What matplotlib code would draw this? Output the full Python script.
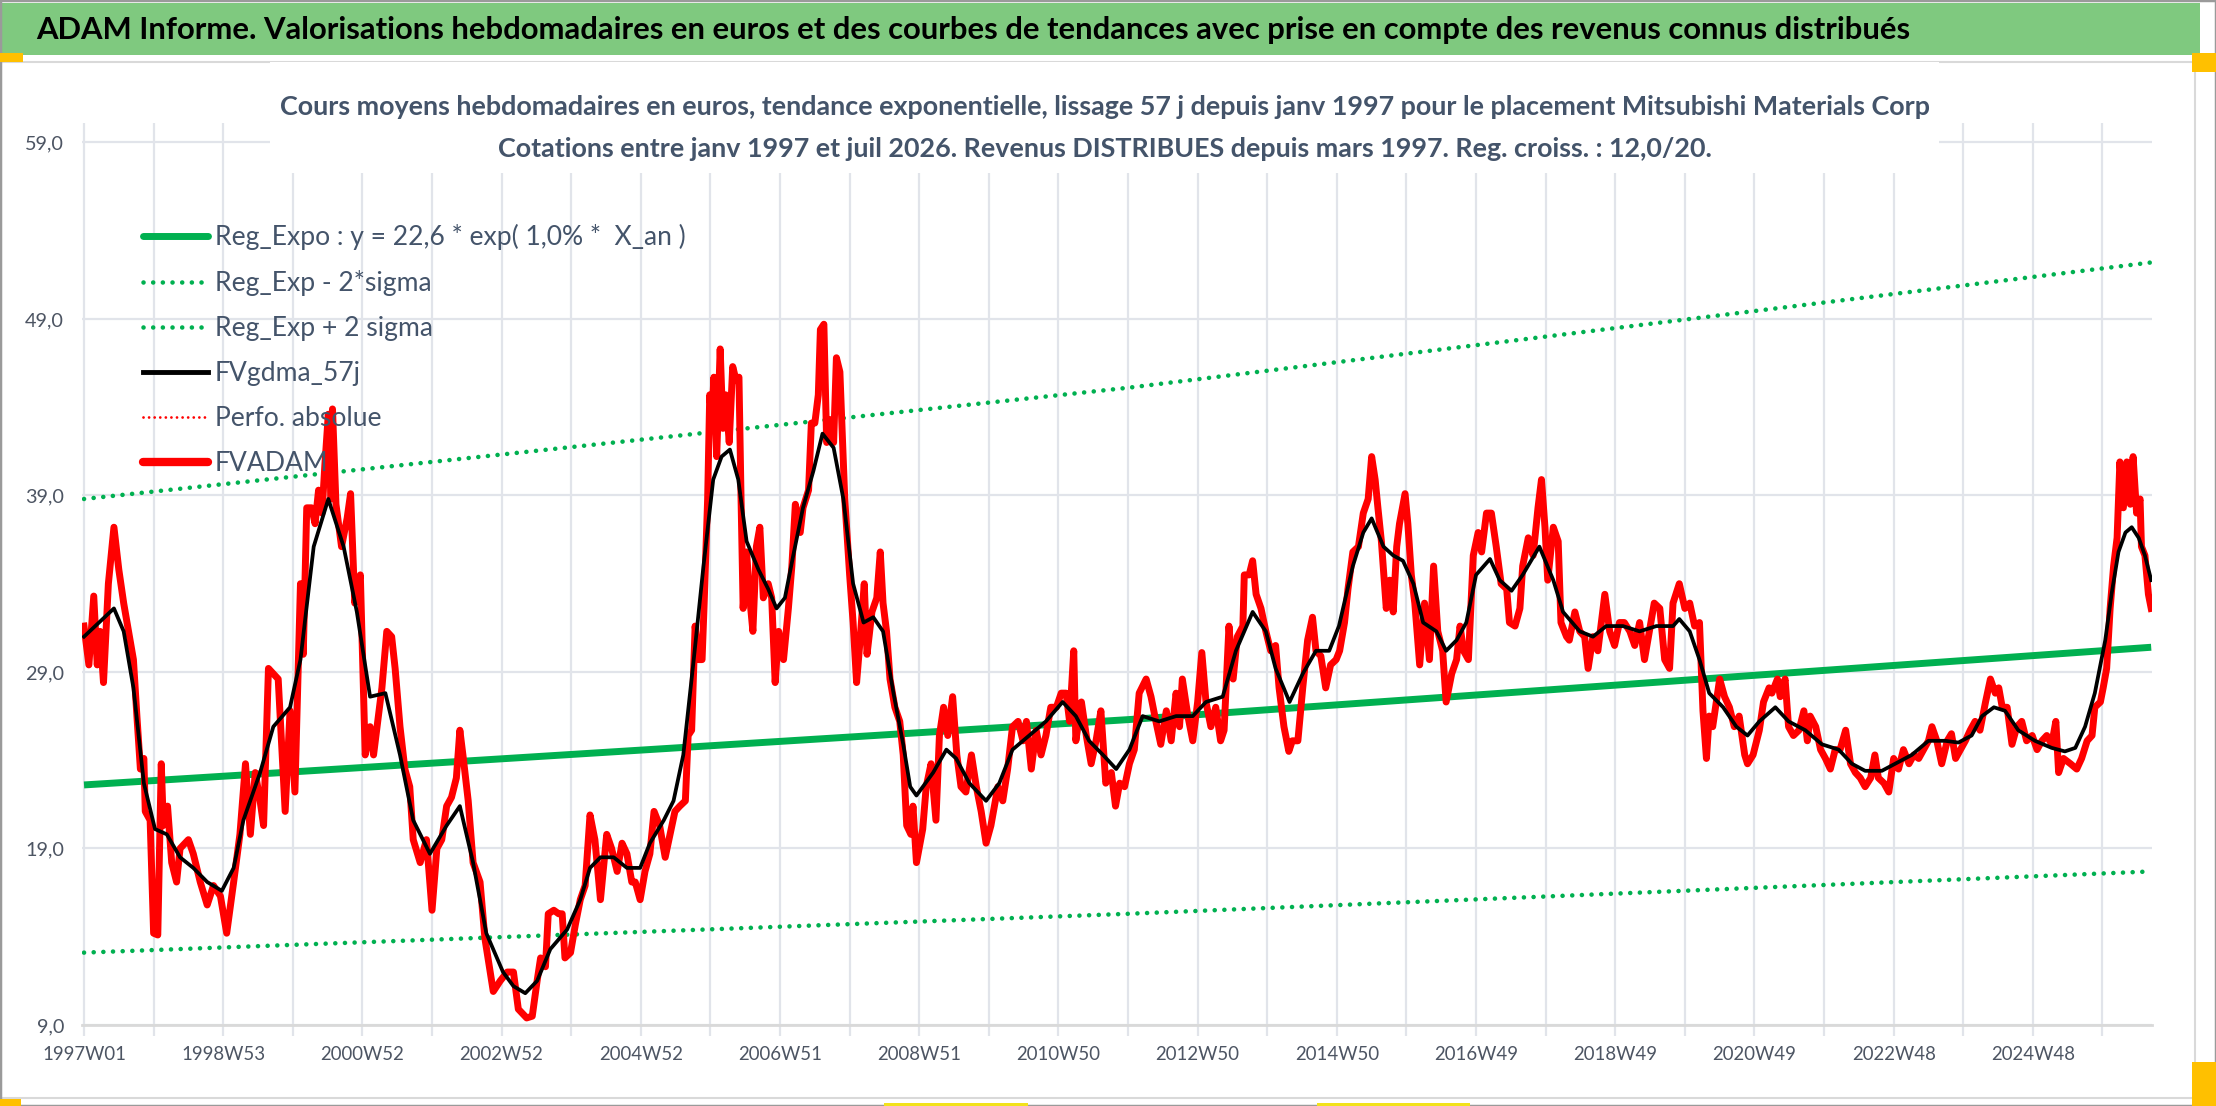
"""ADAM weekly valuation chart - Mitsubishi Materials Corp."""
import numpy as np
import pandas as pd
import matplotlib
matplotlib.use('Agg')
from matplotlib import pyplot as plt
from matplotlib import font_manager
from matplotlib.patches import Rectangle
from matplotlib.lines import Line2D

W, H = 2216, 1106
n_weeks = 1545

# FVADAM weekly price (red): years since jan 1997 / euros
red_t = [0.00, 0.07, 0.14, 0.19, 0.23, 0.28, 0.35, 0.43, 0.50, 0.57,
         0.64, 0.71, 0.76, 0.81, 0.86, 0.88, 0.95, 1.00, 1.06, 1.11,
         1.14, 1.20, 1.26, 1.33, 1.38, 1.50, 1.57, 1.67, 1.77, 1.86,
         1.96, 2.05, 2.15, 2.24, 2.32, 2.39, 2.46, 2.53, 2.58, 2.65,
         2.72, 2.79, 2.84, 2.89, 2.96, 3.03, 3.11, 3.15, 3.20, 3.27,
         3.32, 3.37, 3.42, 3.46, 3.51, 3.55, 3.57, 3.62, 3.70, 3.78,
         3.83, 3.89, 3.97, 4.04, 4.11, 4.16, 4.21, 4.28, 4.35, 4.42,
         4.47, 4.54, 4.61, 4.68, 4.73, 4.83, 4.92, 5.00, 5.07, 5.14,
         5.21, 5.28, 5.35, 5.40, 5.45, 5.52, 5.59, 5.69, 5.76, 5.88, 5.98,
         6.08, 6.17, 6.24, 6.36, 6.44, 6.51, 6.56, 6.63, 6.67, 6.75,
         6.82, 6.87, 6.91, 6.99, 7.06, 7.13, 7.20, 7.27, 7.34, 7.42,
         7.51, 7.58, 7.66, 7.73, 7.80, 7.87, 7.92, 7.99, 8.06, 8.13,
         8.19, 8.27, 8.35, 8.42, 8.49, 8.56, 8.64, 8.68, 8.73, 8.78,
         8.83, 8.88, 8.91, 8.96, 8.99, 9.02, 9.05, 9.09, 9.14, 9.18,
         9.22, 9.27, 9.32, 9.37, 9.41, 9.44, 9.47, 9.52, 9.56, 9.61,
         9.66, 9.71, 9.76, 9.83, 9.88, 9.93, 9.98, 10.05, 10.12, 10.17,
         10.22, 10.29, 10.33, 10.41, 10.45, 10.50, 10.55, 10.58, 10.63, 10.67,
         10.72, 10.77, 10.81, 10.86, 10.93, 11.00, 11.05, 11.10, 11.15, 11.21,
         11.25, 11.32, 11.39, 11.44, 11.48, 11.53, 11.58, 11.65, 11.72, 11.77,
         11.82, 11.88, 11.91, 11.96,
         12.05, 12.10, 12.17, 12.24, 12.29, 12.35, 12.41, 12.48, 12.54, 12.60,
         12.67, 12.75, 12.82, 12.89, 12.96, 13.03, 13.13, 13.20, 13.27, 13.34,
         13.42, 13.49, 13.54, 13.61, 13.68, 13.75, 13.82, 13.89, 13.97, 14.04,
         14.11, 14.16, 14.22, 14.25, 14.33, 14.40, 14.47, 14.54, 14.61, 14.68,
         14.76, 14.82, 14.88, 14.95, 15.02, 15.09, 15.16, 15.26, 15.33, 15.40,
         15.47, 15.55, 15.62, 15.69, 15.74, 15.78, 15.86, 15.93, 16.00, 16.06,
         16.12, 16.19, 16.26, 16.33, 16.38, 16.45, 16.51, 16.57, 16.65, 16.67,
         16.74, 16.79, 16.84, 16.91, 16.98, 17.05, 17.12, 17.17, 17.24, 17.31,
         17.36, 17.44, 17.51, 17.58, 17.65, 17.70, 17.77, 17.84, 17.91, 17.99,
         18.04, 18.11, 18.16, 18.23, 18.31, 18.38, 18.45, 18.50, 18.55, 18.59,
         18.64, 18.71, 18.76, 18.81, 18.86, 18.90, 18.98, 19.02, 19.07, 19.12,
         19.19, 19.26, 19.33, 19.39, 19.45, 19.52, 19.57, 19.65, 19.72, 19.77,
         19.82, 19.89, 19.96, 20.03, 20.08, 20.15, 20.22, 20.29, 20.36, 20.44,
         20.48, 20.56, 20.63, 20.67, 20.75, 20.82, 20.89, 20.94, 20.99, 21.03,
         21.11, 21.18, 21.22, 21.30, 21.34, 21.42, 21.49, 21.56, 21.61, 21.68,
         21.75, 21.85, 21.92, 21.99, 22.06, 22.13, 22.21, 22.28, 22.35, 22.42,
         22.49, 22.56, 22.64, 22.71, 22.78, 22.83, 22.92, 23.00, 23.07, 23.14,
         23.21, 23.26, 23.31, 23.35, 23.40, 23.50, 23.57, 23.64, 23.71, 23.78,
         23.86, 23.90, 23.98, 24.07,
         24.13, 24.21, 24.25, 24.33, 24.37, 24.44, 24.49, 24.56, 24.64, 24.71,
         24.76, 24.80, 24.88, 24.95, 25.02, 25.09, 25.16, 25.23, 25.31, 25.38,
         25.45, 25.52, 25.59, 25.67, 25.73, 25.78, 25.86, 25.93, 26.00, 26.07,
         26.14, 26.22, 26.29, 26.36, 26.43, 26.50, 26.55, 26.62, 26.69, 26.77,
         26.83, 26.89, 26.96, 27.03, 27.10, 27.17, 27.24, 27.32, 27.39, 27.46,
         27.51, 27.56, 27.63, 27.70, 27.77, 27.84, 27.91, 27.99, 28.06, 28.13,
         28.20, 28.27, 28.33, 28.37, 28.44, 28.54, 28.63, 28.70, 28.78, 28.85,
         28.89, 28.97, 29.01, 29.06, 29.11, 29.16, 29.21, 29.25, 29.30, 29.35,
         29.40, 29.44, 29.49, 29.54, 29.56, 29.61, 29.66, 29.70]
red_v = [31.6, 29.4, 33.3, 29.4, 31.3, 28.4, 34.0, 37.2, 34.8, 32.9,
         31.3, 29.7, 26.5, 23.5, 24.1, 21.1, 20.6, 14.2, 14.1, 23.8,
         20.3, 21.4, 18.2, 17.1, 19.0, 19.5, 18.7, 17.1, 15.8, 16.9,
         16.3, 14.2, 17.1, 19.8, 23.8, 19.8, 23.3, 21.7, 20.3, 29.2,
         28.9, 28.6, 24.9, 21.1, 26.8, 22.2, 34.0, 30.0, 38.3, 38.3,
         37.4, 39.3, 38.0, 40.7, 43.6, 38.8, 43.9, 38.5, 36.1, 37.7,
         39.1, 32.9, 34.5, 24.3, 25.9, 24.3, 25.9, 28.1, 31.3, 31.0,
         29.2, 25.9, 23.5, 22.5, 19.5, 18.2, 19.5, 15.5, 19.0, 19.5,
         21.4, 21.9, 23.0, 25.7, 24.1, 21.7, 18.2, 17.1, 13.9, 10.9, 11.5,
         12.0, 12.0, 9.9, 9.4, 9.5, 11.5, 12.8, 12.3, 15.3, 15.5,
         15.3, 15.3, 12.8, 13.1, 14.7, 16.1, 16.9, 20.9, 19.5, 16.1,
         19.8, 19.0, 17.7, 19.3, 18.7, 17.1, 17.1, 16.1, 17.7, 18.7,
         21.1, 20.3, 18.5, 19.8, 21.1, 21.4, 21.7, 25.4, 25.7, 31.6,
         29.7, 29.7, 32.9, 38.8, 44.7, 43.3, 45.7, 41.2, 47.3, 42.8,
         44.7, 42.0, 46.3, 45.5, 45.7, 38.8, 32.6, 35.8, 33.4, 31.3,
         36.1, 37.2, 33.2, 34.0, 33.2, 28.4, 31.3, 29.7, 32.6, 35.0,
         38.5, 36.9, 38.3, 39.3, 43.1, 43.1, 44.7, 48.4, 48.7, 42.0,
         43.3, 42.0, 46.8, 46.0, 38.8, 34.5, 31.8, 28.4, 30.8, 34.0,
         30.0, 32.4, 33.2, 35.8, 32.9, 31.3, 28.6, 27.0, 26.2, 24.3,
         20.3, 19.8, 21.4, 18.2,
         20.1, 22.5, 23.8, 20.6, 25.4, 27.0, 25.4, 27.6, 24.3, 22.5,
         22.2, 24.3, 22.5, 21.1, 19.3, 20.3, 22.5, 21.7, 23.5, 25.9,
         26.2, 25.1, 26.2, 23.5, 25.7, 24.3, 25.4, 27.0, 27.0, 27.8,
         27.8, 26.2, 30.2, 25.1, 27.3, 25.4, 23.8, 25.1, 26.8, 22.7,
         23.3, 21.4, 22.7, 22.5, 23.8, 24.6, 27.8, 28.6, 27.6, 26.2,
         24.9, 26.8, 25.1, 27.8, 25.9, 28.6, 26.5, 25.1, 27.3, 30.1,
         27.3, 25.9, 27.0, 25.1, 25.7, 31.6, 28.6, 31.0, 31.6, 34.5,
         34.5, 35.3, 33.4, 32.6, 31.3, 30.2, 30.5, 28.1, 25.9, 24.5,
         25.1, 25.1, 28.1, 30.8, 32.1, 30.2, 29.9, 28.1, 29.4, 29.7,
         30.2, 31.8, 33.7, 35.8, 36.1, 38.0, 38.8, 41.2, 39.9, 38.3,
         36.4, 32.6, 34.2, 32.4, 36.1, 37.4, 39.1, 37.4, 34.5, 32.9,
         29.4, 32.9, 29.7, 35.0, 31.3, 30.2, 27.3, 28.9, 29.7, 31.6,
         30.2, 29.7, 35.6, 36.9, 35.8, 38.0, 38.0, 36.1, 34.0, 33.7,
         31.8, 31.6, 32.6, 35.0, 36.6, 35.6, 38.3, 39.9, 37.2, 34.2,
         37.2, 36.4, 31.8, 31.0, 30.8, 32.4, 31.3, 31.0, 29.2, 31.0,
         30.2, 33.4, 31.3, 30.5, 31.8, 31.8, 31.3, 30.5, 31.8, 29.7,
         31.3, 32.9, 32.6, 29.7, 29.2, 32.9, 34.0, 32.6, 32.9, 31.6,
         31.8, 26.8, 24.1, 26.5, 25.9, 28.6, 27.6, 27.0, 25.9, 26.5,
         24.3, 23.8, 24.3, 25.7,
         27.3, 28.1, 27.8, 28.6, 27.6, 28.6, 25.9, 25.4, 25.7, 26.8,
         25.1, 26.5, 25.9, 24.6, 24.1, 23.5, 24.6, 24.6, 25.7, 23.8,
         23.3, 23.0, 22.5, 23.0, 24.3, 23.0, 22.7, 22.2, 24.1, 23.5,
         24.6, 23.8, 24.3, 24.1, 24.6, 25.1, 25.9, 25.1, 23.8, 25.1,
         25.5, 24.1, 24.6, 25.1, 25.7, 26.2, 25.7, 27.3, 28.6, 27.8,
         28.1, 27.0, 27.0, 24.9, 25.9, 26.2, 25.1, 25.4, 24.6, 25.1,
         25.4, 24.9, 26.2, 23.3, 24.1, 23.8, 23.5, 24.1, 25.1, 25.4,
         27.0, 27.3, 28.1, 29.2, 32.6, 35.0, 36.6, 40.9, 38.3, 40.9,
         38.5, 41.2, 38.0, 38.8, 36.1, 35.6, 33.4, 32.6]

# FVgdma_57j smoothed curve (black)
black_t = [0.00, 0.43, 0.57, 0.71, 0.86, 1.02, 1.19, 1.38, 1.57, 1.77,
           1.98, 2.15, 2.29, 2.53, 2.72, 2.96, 3.11, 3.30, 3.51, 3.73,
           3.92, 4.11, 4.33, 4.54, 4.73, 4.97, 5.21, 5.40, 5.59, 5.78, 6.02,
           6.17, 6.34, 6.51, 6.70, 6.94, 7.13, 7.27, 7.42, 7.61, 7.80,
           7.99, 8.13, 8.33, 8.47, 8.61, 8.76, 8.90, 9.04, 9.16, 9.28,
           9.40, 9.52, 9.69, 9.83, 9.95, 10.07, 10.19, 10.33, 10.48, 10.61,
           10.77, 10.91, 11.05, 11.20, 11.34, 11.48, 11.63, 11.77, 11.87, 11.96,
           12.20, 12.39, 12.53, 12.72, 12.96, 13.15, 13.34, 13.58, 13.82, 14.06,
           14.25, 14.44, 14.64, 14.83, 15.02, 15.21, 15.45, 15.69, 15.93, 16.12,
           16.36, 16.55, 16.79, 16.98, 17.12, 17.32, 17.51, 17.70, 17.89,
           18.03, 18.23, 18.38, 18.50, 18.67, 18.81, 18.95, 19.10, 19.24, 19.43,
           19.57, 19.72, 19.86, 20.00, 20.20, 20.34, 20.51, 20.67, 20.91, 21.11,
           21.25, 21.49, 21.68, 21.87, 22.11, 22.35, 22.59, 22.83, 22.92, 23.07,
           23.21, 23.35, 23.55, 23.74, 23.90, 24.07,
           24.30, 24.49, 24.73, 24.97, 25.21, 25.40, 25.59, 25.83, 26.02, 26.26,
           26.50, 26.74, 26.93, 27.12, 27.27, 27.44, 27.60, 27.79, 28.03, 28.27,
           28.46, 28.61, 28.75, 28.89, 29.04, 29.13, 29.23, 29.33, 29.42, 29.52,
           29.61, 29.70]
black_v = [31.0, 32.6, 31.3, 28.1, 22.7, 20.1, 19.8, 18.5, 17.9, 17.1,
           16.6, 17.9, 20.6, 23.3, 25.9, 27.0, 29.7, 36.1, 38.8, 36.1,
           32.4, 27.6, 27.8, 24.3, 20.6, 18.7, 20.3, 21.4, 18.2, 14.2, 12.0,
           11.2, 10.8, 11.5, 13.3, 14.4, 16.1, 17.9, 18.5, 18.5, 17.9,
           17.9, 19.3, 20.6, 21.7, 24.3, 29.7, 35.0, 39.9, 41.2, 41.6,
           39.9, 36.4, 34.8, 33.7, 32.6, 33.2, 35.6, 38.3, 40.4, 42.5,
           41.7, 38.8, 34.0, 31.8, 32.1, 31.3, 27.8, 24.9, 22.5, 22.0,
           23.3, 24.6, 24.1, 22.7, 21.7, 22.7, 24.6, 25.4, 26.2, 27.3,
           26.5, 25.1, 24.3, 23.5, 24.6, 26.5, 26.2, 26.5, 26.5, 27.3,
           27.6, 30.2, 32.4, 31.3, 29.2, 27.3, 28.9, 30.2, 30.2,
           31.6, 35.0, 36.9, 37.7, 36.1, 35.6, 35.3, 34.0, 31.8, 31.3,
           30.2, 30.8, 31.8, 34.5, 35.4, 34.2, 33.6, 34.5, 36.1, 34.2,
           32.4, 31.3, 31.0, 31.6, 31.6, 31.3, 31.6, 31.6, 32.0, 31.3,
           29.7, 27.8, 27.0, 25.9, 25.4, 26.2,
           27.0, 26.2, 25.7, 24.9, 24.6, 23.8, 23.4, 23.4, 23.8, 24.3,
           25.1, 25.1, 25.0, 25.4, 26.5, 27.0, 26.8, 25.7, 25.1, 24.7,
           24.5, 24.7, 25.9, 27.8, 30.8, 33.4, 35.8, 36.9, 37.2, 36.6,
           35.6, 34.2]

# exponential regression and +/- 2 sigma bands, read at start / middle / end
trend_t = [0.0, 15.0, 29.7]
reg_expo = [22.6, 26.3, 30.4]
reg_minus = [13.1, 15.3, 17.7]
reg_plus = [38.8, 45.1, 52.2]

y_ticks = [9, 19, 29, 39, 49, 59]

title = ("ADAM Informe. Valorisations hebdomadaires en euros et des courbes de "
         "tendances avec prise en compte des revenus connus distribués")
sub1 = ("Cours moyens hebdomadaires en euros, tendance exponentielle, lissage 57 j "
        "depuis janv 1997 pour le placement Mitsubishi Materials Corp")
sub2 = ("Cotations entre janv 1997 et juil 2026. Revenus DISTRIBUES depuis mars 1997. "
        "Reg. croiss. : 12,0/20.")
legend_labels = ['Reg_Expo : y = 22,6 * exp( 1,0% *  X_an )', 'Reg_Exp - 2*sigma',
                 'Reg_Exp + 2 sigma', 'FVgdma_57j', 'Perfo. absolue', 'FVADAM']

# week labels like 1997W01
dates = pd.date_range('1997-01-01', periods=n_weeks, freq='7D')
iso = dates.isocalendar()
week_labels = ['%dW%02d' % (y, w) for y, w in zip(iso['year'], iso['week'])]

# font: narrow sans if present
avail = {f.name for f in font_manager.fontManager.ttflist}
font = 'DejaVu Sans'
for cand in ['Liberation Sans Narrow', 'Lato', 'Open Sans', 'Noto Sans']:
    if cand in avail:
        font = cand
        break
plt.rcParams['font.family'] = [font, 'DejaVu Sans']

GREEN = '#00B050'
GRID = '#E1E4EA'
SLATE = '#44546A'

fig = plt.figure(figsize=(W / 100, H / 100), dpi=100)
fig.patch.set_facecolor('white')


def fx(px):
    return px / W


def fy(py):
    return 1 - py / H


def frect(x0, y0, x1, y1, **kw):
    r = Rectangle((fx(x0), fy(y1)), (x1 - x0) / W, (y1 - y0) / H,
                  transform=fig.transFigure, **kw)
    fig.add_artist(r)
    return r


# banner, chart-area frame, selection handles
frect(0, 3, 2200, 55, facecolor='#7FC97F', edgecolor='none', zorder=0)
frect(1, 62, 2195, 1098, fill=False, edgecolor='#D9D9D9', lw=1.5, zorder=0)
frect(0, 0, W, H, fill=False, edgecolor='#9A9A9A', lw=2.5, zorder=0)
for box in [(0, 53, 23, 62), (2192, 53, 2216, 72), (2192, 1062, 2216, 1106),
            (0, 1099, 21, 1106)]:
    frect(*box, facecolor='#FFC000', edgecolor='none', zorder=5)
for box in [(884, 1103, 1028, 1106), (1317, 1103, 1470, 1106)]:
    frect(*box, facecolor='#F2E21B', edgecolor='none', zorder=5)

ax = fig.add_axes([fx(82), fy(1025), (2152 - 82) / W, (1025 - 123) / H])
ax.set_xlim(-1.5, n_weeks)
ax.set_ylim(9, 60.1)

tx = np.array(trend_t) * 52
ax.plot(tx, reg_expo, color=GREEN, lw=5, solid_capstyle='butt', zorder=2)
dots = dict(color=GREEN, lw=3.3, linestyle=(0, (0.01, 2.1)), dash_capstyle='round', zorder=2)
ax.plot(tx, reg_minus, **dots)
ax.plot(tx, reg_plus, **dots)
ax.plot(np.array(red_t) * 52, red_v, color='#FF0000', lw=5, solid_joinstyle='round', zorder=3)
ax.plot(np.array(black_t) * 52, black_v, color='black', lw=2.7, solid_joinstyle='round', zorder=4)

# white box behind the chart title hides the grid there
ax.add_patch(Rectangle((fx(270), fy(173)), (1939 - 270) / W, (173 - 62) / H,
                       transform=fig.transFigure, facecolor='white',
                       edgecolor='none', zorder=1, clip_on=False))

ax.set_yticks(y_ticks)
ax.set_yticklabels([('%.1f' % v).replace('.', ',') for v in y_ticks])
xt = list(range(0, n_weeks, 52))
ax.set_xticks(xt)
ax.set_xticklabels([week_labels[i] if i % 104 == 0 else '' for i in xt])
ax.grid(True, color=GRID, lw=1.6, zorder=0.5)
ax.set_axisbelow(True)
for s in ['top', 'right', 'left']:
    ax.spines[s].set_visible(False)
ax.spines['bottom'].set_color('#D9D9D9')
ax.spines['bottom'].set_linewidth(2)
ax.tick_params(axis='x', length=8, width=1.6, color=GRID, pad=7,
               labelsize=15, labelcolor='#4D5563')
ax.tick_params(axis='y', length=0, pad=13, labelsize=15, labelcolor='#4D5563')

t_title = fig.text(fx(36), fy(30), title, ha='left', va='center', fontsize=26,
                   fontweight='bold', color='black', zorder=6)
t_sub1 = fig.text(fx(1105), fy(107), sub1, ha='center', va='center', fontsize=18,
                  fontweight='bold', color=SLATE, zorder=6)
t_sub2 = fig.text(fx(1105), fy(149), sub2, ha='center', va='center', fontsize=18,
                  fontweight='bold', color=SLATE, zorder=6)

handles = [Line2D([], [], color=GREEN, lw=5, solid_capstyle='round'),
           Line2D([], [], **{k: v for k, v in dots.items() if k != 'zorder'}),
           Line2D([], [], **{k: v for k, v in dots.items() if k != 'zorder'}),
           Line2D([], [], color='black', lw=3.5),
           Line2D([], [], color='#FF0000', lw=2, linestyle=(0, (0.01, 2.0)),
                  dash_capstyle='round'),
           Line2D([], [], color='#FF0000', lw=6, solid_capstyle='round')]


def make_legend(fs, spacing, anchor):
    fs_px = fs * 100 / 72
    leg = ax.legend(handles, legend_labels, loc='upper left', frameon=False,
                    fontsize=fs, labelcolor=SLATE, borderpad=0, borderaxespad=0,
                    handlelength=65 / fs_px, handletextpad=7 / fs_px,
                    labelspacing=spacing, bbox_to_anchor=anchor,
                    bbox_transform=fig.transFigure)
    return leg


# fit sizes and positions to the reference pixels
leg_fs, leg_sp = 16.0, 0.5
anchor = (fx(143), fy(215))
leg = make_legend(leg_fs, leg_sp, anchor)
for _ in range(3):
    fig.canvas.draw()
    r = fig.canvas.get_renderer()
    # titles
    w = t_title.get_window_extent(r).width
    t_title.set_fontsize(t_title.get_fontsize() * (1917 - 36) / w)
    w = t_sub1.get_window_extent(r).width
    k = (1931 - 278) / w
    t_sub1.set_fontsize(t_sub1.get_fontsize() * k)
    t_sub2.set_fontsize(t_sub2.get_fontsize() * k)
    # tick labels
    wy = ax.get_yticklabels()[1].get_window_extent(r).width
    wx = ax.get_xticklabels()[0].get_window_extent(r).width
    ax.tick_params(axis='y', labelsize=ax.get_yticklabels()[1].get_fontsize() * 39 / wy)
    ax.tick_params(axis='x', labelsize=ax.get_xticklabels()[0].get_fontsize() * 84 / wx)
    # legend
    texts = leg.get_texts()
    b0 = texts[0].get_window_extent(r)
    b1 = texts[1].get_window_extent(r)
    fs_px = leg_fs * 100 / 72
    gap = (b0.y0 + b0.y1) / 2 - (b1.y0 + b1.y1) / 2
    leg_sp = leg_sp + (46 - gap) / fs_px
    dx = 215 - b0.x0
    dy = (H - 237) - (b0.y0 + b0.y1) / 2
    anchor = (anchor[0] + dx / W, anchor[1] + dy / H)
    leg_fs = leg_fs * 216 / b1.width
    leg.remove()
    leg = make_legend(leg_fs, leg_sp, anchor)

fig.savefig('out.png', dpi=100)
